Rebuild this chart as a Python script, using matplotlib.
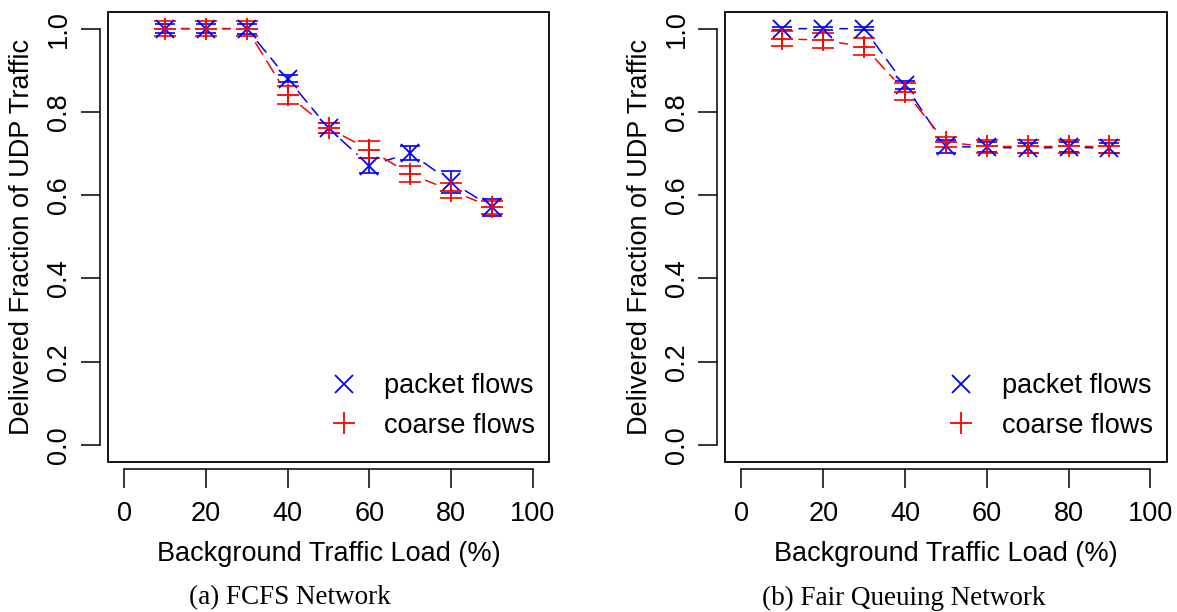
import matplotlib.pyplot as plt
from matplotlib.patches import Rectangle
from matplotlib.lines import Line2D

plt.rcParams['font.family'] = ['Liberation Sans', 'DejaVu Sans']

load = [10, 20, 30, 40, 50, 60, 70, 80, 90]

# (a) FCFS network
fcfs_packet = [1.0, 1.0, 1.0, 0.880, 0.761, 0.671, 0.701, 0.632, 0.571]
fcfs_packet_err = [0.010, 0.010, 0.012, 0.008, 0.012, 0.018, 0.017, 0.026, 0.020]
fcfs_coarse = [1.0, 1.0, 1.0, 0.841, 0.761, 0.709, 0.651, 0.611, 0.571]
fcfs_coarse_err = [0.018, 0.018, 0.018, 0.022, 0.012, 0.020, 0.020, 0.018, 0.015]

# (b) Fair queuing network
fq_packet = [1.0, 1.0, 1.0, 0.865, 0.717, 0.715, 0.713, 0.715, 0.713]
fq_packet_err = [0.004, 0.004, 0.004, 0.010, 0.015, 0.012, 0.012, 0.012, 0.012]
fq_coarse = [0.976, 0.972, 0.957, 0.849, 0.727, 0.717, 0.717, 0.717, 0.717]
fq_coarse_err = [0.018, 0.018, 0.020, 0.020, 0.012, 0.015, 0.015, 0.015, 0.015]

captions = ['(a) FCFS Network', '(b) Fair Queuing Network']
labels = ['packet flows', 'coarse flows']

fig = plt.figure(figsize=(11.77, 6.12), dpi=100)
ax1 = fig.add_axes([0.0915, 0.2456, 0.3752, 0.7348])
ax2 = fig.add_axes([0.616, 0.2456, 0.3753, 0.7348])

FS = 19.5


def connect(ax, xs, ys, color, dash):
    # R type="b": segments with a gap around each point
    for i in range(len(xs) - 1):
        ax.annotate('', xy=(xs[i + 1], ys[i + 1]), xytext=(xs[i], ys[i]),
                    arrowprops=dict(arrowstyle='-', color=color, lw=1.1,
                                    linestyle=dash, shrinkA=12, shrinkB=12))


def panel(ax, packet, packet_err, coarse, coarse_err):
    connect(ax, load, packet, 'blue', (0, (9, 5)))
    connect(ax, load, coarse, 'red', (0, (9, 5)))
    ax.errorbar(load, packet, yerr=packet_err, fmt='none', ecolor='blue',
                elinewidth=1.2, capsize=7, capthick=1.2)
    ax.errorbar(load, coarse, yerr=coarse_err, fmt='none', ecolor='red',
                elinewidth=1.2, capsize=8, capthick=1.2)
    ax.plot(load, packet, 'x', color='blue', ms=12.5, mew=1.3, linestyle='none')
    ax.plot(load, coarse, '+', color='red', ms=16, mew=1.3, linestyle='none')

    ax.set_xlim(-4, 104)
    ax.set_ylim(-0.04, 1.04)
    ax.set_xticks(range(0, 101, 20))
    ax.set_yticks([0.0, 0.2, 0.4, 0.6, 0.8, 1.0])
    ax.set_yticklabels(['0.0', '0.2', '0.4', '0.6', '0.8', '1.0'])

    # detached R-style axes plus a full box
    for s in ['top', 'right']:
        ax.spines[s].set_visible(False)
    ax.spines['left'].set_position(('outward', 5.5))
    ax.spines['bottom'].set_position(('outward', 5.5))
    ax.spines['left'].set_bounds(0, 1)
    ax.spines['bottom'].set_bounds(0, 100)
    for s in ['left', 'bottom']:
        ax.spines[s].set_linewidth(1.1)
    ax.add_patch(Rectangle((0, 0), 1, 1, transform=ax.transAxes, fill=False,
                           lw=1.3, ec='black', clip_on=False, zorder=5))

    ax.tick_params(axis='both', length=14, width=1.1, labelsize=FS)
    ax.tick_params(axis='x', pad=9)
    ax.tick_params(axis='y', pad=6, labelrotation=90)
    for t in ax.get_yticklabels():
        t.set_va('center')

    ax.set_xlabel('Background Traffic Load (%)', fontsize=FS, labelpad=10)
    ax.set_ylabel('Delivered Fraction of UDP Traffic', fontsize=FS, labelpad=8)

    handles = [Line2D([], [], marker='x', color='blue', ms=12.5, mew=1.3, ls='none'),
               Line2D([], [], marker='+', color='red', ms=16, mew=1.3, ls='none')]
    ax.legend(handles, labels, loc='lower right', bbox_to_anchor=(1.023, -0.003),
              frameon=False, fontsize=FS, handletextpad=0.68, labelspacing=0.5,
              handlelength=1.6)


panel(ax1, fcfs_packet, fcfs_packet_err, fcfs_coarse, fcfs_coarse_err)
panel(ax2, fq_packet, fq_packet_err, fq_coarse, fq_coarse_err)

fig.text(290 / 1177, 1 - 598 / 612, captions[0], ha='center', va='center',
         fontsize=19.5, family='Liberation Serif')
fig.text(904 / 1177, 1 - 598 / 612, captions[1], ha='center', va='center',
         fontsize=19.5, family='Liberation Serif')

fig.savefig('out.png', dpi=100)
